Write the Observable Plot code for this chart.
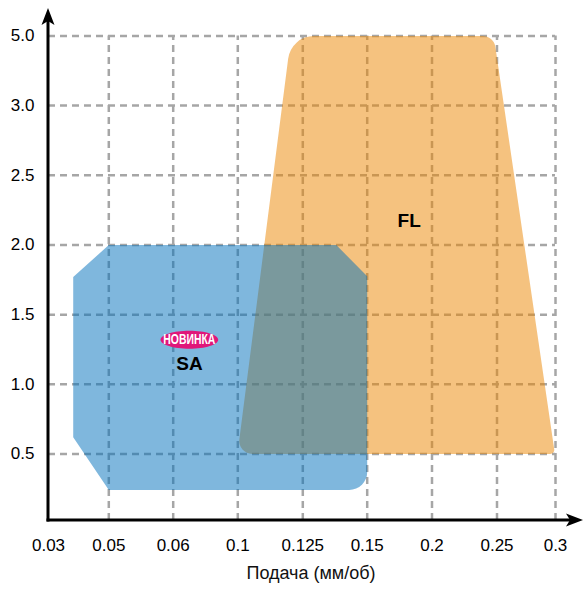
<!DOCTYPE html>
<html><head><meta charset="utf-8">
<script src="https://cdn.jsdelivr.net/npm/d3@7"></script>
<script src="https://cdn.jsdelivr.net/npm/@observablehq/plot@0.6"></script>
<style>html,body{margin:0;padding:0;background:#fff} svg{display:block}</style>
</head><body><div id="chart"></div>
<script>
// ---- data ----
const xTicks = [0.03, 0.05, 0.06, 0.1, 0.125, 0.15, 0.2, 0.25, 0.3];
const yTicks = [0.5, 1.0, 1.5, 2.0, 2.5, 3.0, 5.0];
// SA region (feed, depth)
const saX = [0.0382, 0.05, 0.138, 0.15, 0.15, 0.05, 0.0382];
const saY = [1.77, 2.0, 2.0, 1.775, 0.23, 0.23, 0.62];
// FL region
const flX = [0.0998, 0.1205, 0.2475, 0.2995];
const flY = [0.5, 5.0, 5.0, 0.5];
// region labels
const labelNames = ["FL", "SA"];
const labelX = [0.1824, 0.0701];
const labelY = [2.174, 1.15];
const badgeText = ["НОВИНКА"];
const badgeX = [0.07];
const badgeY = [1.32];
const xTitle = "Подача (мм/об)";

// ---- layout (pixels) ----
const W = 584, H = 589;
const xRange = [48, 108.3, 172.7, 237.3, 302.3, 366.7, 431.5, 496.5, 555];
const yDomain = [0, ...yTicks];
const yRange = [520, 453.5, 383.8, 314.2, 244.5, 174.8, 105.1, 35.4];
const FONT = "'Liberation Sans', Arial, Helvetica, sans-serif";

const sa = saX.map((x, i) => ({x, y: saY[i]}));
const fl = flX.map((x, i) => ({x, y: flY[i]}));
const labels = labelNames.map((t, i) => ({t, x: labelX[i], y: labelY[i]}));
const badges = badgeText.map((t, i) => ({t, x: badgeX[i], y: badgeY[i]}));

// closed polygon curve with per-vertex rounded corners
function roundedPolygon(radii) {
  return function(context) {
    let pts = [];
    return {
      areaStart() {}, areaEnd() {},
      lineStart() { pts = []; },
      point(x, y) { pts.push([+x, +y]); },
      lineEnd() {
        const n = pts.length;
        if (!n) return;
        const a = pts[n - 1], b = pts[0];
        context.moveTo((a[0] + b[0]) / 2, (a[1] + b[1]) / 2);
        for (let i = 0; i < n; i++) {
          const p = pts[i], q = pts[(i + 1) % n];
          const r = radii[i] || 0;
          if (r > 0) context.arcTo(p[0], p[1], q[0], q[1], r);
          else context.lineTo(p[0], p[1]);
        }
        context.closePath();
      }
    };
  };
}

const ellipseSymbol = {
  draw(context, size) {
    const r = Math.sqrt(size / Math.PI);
    const rx = r * 3.2, ry = r, k = 0.5523;
    context.moveTo(rx, 0);
    context.bezierCurveTo(rx, ry * k, rx * k, ry, 0, ry);
    context.bezierCurveTo(-rx * k, ry, -rx, ry * k, -rx, 0);
    context.bezierCurveTo(-rx, -ry * k, -rx * k, -ry, 0, -ry);
    context.bezierCurveTo(rx * k, -ry, rx, -ry * k, rx, 0);
    context.closePath();
  }
};

function axisArrows(...args) {
  const scales = args.find(a => a && typeof a.x === "function" && typeof a.y === "function");
  const dims = args.find(a => a && typeof a.width === "number" && "marginLeft" in a);
  const x0 = scales.x(xTicks[0]), y0 = scales.y(0);
  const topY = 8, rightX = dims.width - 1;
  const g = d3.create("svg:g");
  g.append("line").attr("x1", x0).attr("x2", x0).attr("y1", y0 + 1.5).attr("y2", topY + 12)
    .attr("stroke", "#000").attr("stroke-width", 3);
  g.append("line").attr("x1", x0 - 1.5).attr("x2", rightX - 12).attr("y1", y0).attr("y2", y0)
    .attr("stroke", "#000").attr("stroke-width", 3);
  g.append("path").attr("fill", "#000")
    .attr("d", `M${x0},${topY}L${x0 + 6.5},${topY + 17}L${x0},${topY + 13}L${x0 - 6.5},${topY + 17}Z`);
  g.append("path").attr("fill", "#000")
    .attr("d", `M${rightX},${y0}L${rightX - 17},${y0 - 6.5}L${rightX - 13},${y0}L${rightX - 17},${y0 + 6.5}Z`);
  return g.node();
}

const gridStyle = {stroke: "#a6a6a6", strokeWidth: 2.5, strokeDasharray: "7,5"};

const chart = Plot.plot({
  width: W, height: H,
  marginLeft: 48, marginRight: 29, marginTop: 35, marginBottom: 69,
  style: {fontFamily: FONT, fontSize: "17px", color: "#000", background: "#fff", overflow: "visible"},
  x: {type: "linear", domain: xTicks, range: xRange, ticks: xTicks, tickFormat: d => String(d),
      tickSize: 0, tickPadding: 18, label: null},
  y: {type: "linear", domain: yDomain, range: yRange, ticks: yTicks, tickFormat: d3.format(".1f"),
      tickSize: 0, tickPadding: 14, label: null},
  marks: [
    Plot.ruleX(xTicks.slice(1), {y1: 0, y2: yTicks[yTicks.length - 1], ...gridStyle}),
    Plot.ruleY(yTicks, {x1: xTicks[0], x2: xTicks[xTicks.length - 1], ...gridStyle}),
    Plot.line(fl, {x: "x", y: "y", curve: roundedPolygon([13, 26, 13, 4]),
      fill: "#eb8500", fillOpacity: 0.5, stroke: "none"}),
    Plot.line(sa, {x: "x", y: "y", curve: roundedPolygon([0, 0, 0, 0, 18, 0, 0]),
      fill: "#0070bc", fillOpacity: 0.5, stroke: "none"}),
    Plot.text(labels, {x: "x", y: "y", text: "t", fontWeight: "bold", fontSize: 19, fill: "#000"}),
    Plot.dot(badges, {x: "x", y: "y", r: 9, symbol: ellipseSymbol, fill: "#e0177a", stroke: "none"}),
    Plot.text(badges, {x: "x", y: "y", text: "t", fontWeight: "bold", fontSize: 14, fill: "#fff",
      fontFamily: "'Liberation Sans Narrow', 'Arial Narrow', 'Liberation Sans', sans-serif"}),
    Plot.text([xTitle], {frameAnchor: "bottom", text: d => d, dx: 9, dy: 58, fontSize: 18, fill: "#111"}),
    axisArrows
  ]
});
// condense the badge text to fit inside its ellipse
d3.select(chart).selectAll("text")
  .filter(function() { return badgeText.includes(this.textContent); })
  .attr("textLength", 52).attr("lengthAdjust", "spacingAndGlyphs");
document.getElementById("chart").appendChild(chart);
</script>
</body></html>
